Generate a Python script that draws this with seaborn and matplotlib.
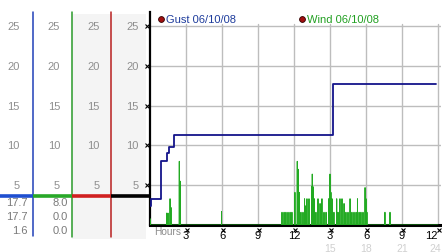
import numpy as np
import pandas as pd
import matplotlib
matplotlib.use("Agg")
import matplotlib.pyplot as plt
import seaborn as sns

sns.set_style("white")
plt.rcParams['font.family'] = ['Liberation Sans', 'DejaVu Sans']

# ---------------- data ----------------
gust_hours = [0.0, 0.05, 0.89, 1.39, 1.56, 2.0, 15.28, 23.85]
gust_values = [2.4, 3.3, 8.0, 9.0, 9.8, 11.3, 17.7, 17.7]

wind_hours = [0.0, 1.39, 1.5, 1.67, 1.75, 2.44, 2.54, 5.96,
              11.0, 11.17, 11.33, 11.5, 11.67, 11.83, 12.08, 12.27, 12.36, 12.44,
              12.58, 12.75, 12.88, 12.96, 13.08, 13.25, 13.46, 13.52, 13.6, 13.69,
              13.83, 14.0, 14.17, 14.33, 14.5, 14.67, 14.89, 15.0, 15.08, 15.17,
              15.33, 15.56, 15.67, 15.83, 16.0, 16.17, 16.33, 16.5, 16.67, 16.83,
              17.0, 17.17, 17.29, 17.42, 17.58, 17.75, 17.92, 18.0, 18.08,
              19.58, 20.0]
wind_values = [0.8, 1.5, 1.5, 3.3, 2.2, 8.0, 5.5, 1.7,
               1.6, 1.6, 1.6, 1.6, 1.6, 1.6, 4.1, 8.0, 7.0, 4.1,
               1.6, 1.6, 3.3, 2.4, 3.3, 3.3, 4.8, 6.4, 4.8, 3.3,
               1.6, 3.3, 2.7, 3.3, 1.6, 1.6, 3.3, 6.4, 4.1, 3.3,
               1.6, 3.3, 1.6, 3.3, 3.3, 2.7, 1.6, 1.6, 3.3, 1.6,
               1.6, 1.6, 3.3, 1.6, 1.6, 1.6, 4.7, 3.3, 1.6,
               1.6, 1.6]

y_ticks = [5, 10, 15, 20, 25]
x_ticks = [3, 6, 9, 12, 15, 18, 21, 24]
x_tick_labels = ["3", "6", "9", "12", "3", "6", "9", "12"]
x_second_ticks = [15, 18, 21, 24]
x_second_labels = ["15", "18", "21", "24"]

cursor_value = 3.64
readout_col1 = ["17.7", "17.7", "1.6"]
readout_col2 = ["8.0", "0.0", "0.0"]
legend_labels = ["Gust 06/10/08", "Wind 06/10/08"]

# wind spikes: each reading drops back to zero between readings
hw = 0.004
wx, wy = [0.0], [0.0]
for h, v in zip(wind_hours, wind_values):
    wx += [max(h - hw, 0), h, h + hw]
    wy += [0.0, v, 0.0]
wx.append(24.0); wy.append(0.0)
wind_df = pd.DataFrame({"hour": wx, "value": wy})
gust_df = pd.DataFrame({"hour": gust_hours, "value": gust_values})

# ---------------- layout ----------------
W, H = 442, 253
PPU = 7.96          # pixels per unit on y
Y0 = 226            # pixel row of zero
fig = plt.figure(figsize=(W / 100, H / 100), dpi=100)

# main axes
ax = fig.add_axes([150 / W, 1 - Y0 / H, 291 / W, (Y0 - 13) / H])
ax.set_xlim(0, 291 / 12)
ax.set_ylim(0, (Y0 - 13) / PPU)
ax.set_facecolor("white")

grid_c = "#bdbdbd"
for yv in y_ticks:
    ax.axhline(yv, color=grid_c, lw=1, zorder=1)
for xv in x_ticks:
    ax.plot([xv, xv], [0, 25.25], color=grid_c, lw=1, zorder=1)

sns.lineplot(data=wind_df, x="hour", y="value", ax=ax, sort=False, estimator=None,
             color="#22aa22", lw=0.7, antialiased=True, zorder=3)
sns.lineplot(data=gust_df, x="hour", y="value", ax=ax, sort=False, estimator=None,
             color="#14148a", lw=1.3, drawstyle="steps-post", zorder=4)

for s in ["top", "right"]:
    ax.spines[s].set_visible(False)
ax.spines["left"].set_color("black")
ax.spines["left"].set_linewidth(1.6)
ax.spines["bottom"].set_color("black")
ax.spines["bottom"].set_linewidth(2.2)
ax.spines["bottom"].set_zorder(2)

ax.set_xticks(x_ticks)
ax.set_xticklabels(x_tick_labels, fontsize=8, color="black")
ax.tick_params(axis="x", length=0, pad=3.8)
ax.set_yticks([])
ax.set_xlabel(""); ax.set_ylabel("")
ax.get_xticklabels()[-1].set_horizontalalignment("right")
ax.get_xticklabels()[-1].set_x(24.35)

# small tick glyphs
ax.plot([-0.28] * len(y_ticks), y_ticks, ls="none", marker="x", ms=2.5, mew=0.8,
        color="black", clip_on=False)
ax.plot([t + 0.05 for t in x_ticks], [-0.62] * len(x_ticks), ls="none", marker="x",
        ms=2.5, mew=0.8, color="black", clip_on=False)

xt = ax.get_xaxis_transform()
ax.text(0.38, -0.028, "Hours", transform=xt, ha="left", va="center", fontsize=7.3,
        color="#8c8c8c")
for xv, lab in zip(x_second_ticks, x_second_labels):
    ha = "right" if xv == 24 else "center"
    xx = 24.25 if xv == 24 else xv
    ax.text(xx, -0.108, lab, transform=xt, ha=ha, va="center", fontsize=7.5,
            color="#d0d0d0")

# legend
ax.plot([0.92], [25.85], ls="none", marker="o", ms=4.2, mfc="#a01010", mec="#300000",
        mew=0.6, clip_on=False)
ax.text(1.3, 25.85, legend_labels[0], ha="left", va="center", fontsize=8,
        color="#1e3c9c")
ax.plot([12.67], [25.85], ls="none", marker="o", ms=4.2, mfc="#a01010", mec="#300000",
        mew=0.6, clip_on=False)
ax.text(13.05, 25.85, legend_labels[1], ha="left", va="center", fontsize=8,
        color="#22a022")

# left panel
lp = fig.add_axes([0, 0, 150 / W, 1], zorder=-1)
lp.set_xlim(0, 150)
lp.set_ylim((Y0 - H) / PPU, Y0 / PPU)
lp.axis("off")

def v(p):
    return (Y0 - p) / PPU

lp.fill_between([72, 146], v(240), v(15), color="#f4f4f4", lw=0)
col_lines = [(33, "#2040b8", 237), (72, "#2a9a2a", 238), (111, "#b82020", 238)]
for x, c, pend in col_lines:
    lp.plot([x, x], [v(13), v(pend)], color=c, lw=1.1)

label_right = [19.5, 60, 99.5, 138.5]
for xr in label_right:
    for yv in y_ticks:
        lp.text(xr, yv, str(yv), ha="right", va="center", fontsize=8, color="#8e8e8e")

segs = [(0, 33, "#1f4fd0"), (33, 72, "#28a828"), (72, 111, "#d02020"), (111, 149, "black")]
for a, b, c in segs:
    lp.plot([a, b], [cursor_value, cursor_value], color=c, lw=2.6, solid_capstyle="butt")

rows = [203, 217, 231]
for p, t1, t2 in zip(rows, readout_col1, readout_col2):
    lp.text(27.5, v(p), t1, ha="right", va="center", fontsize=8, color="#7a7a7a")
    lp.text(67.5, v(p), t2, ha="right", va="center", fontsize=8, color="#7a7a7a")

fig.savefig("out.png", dpi=100)
